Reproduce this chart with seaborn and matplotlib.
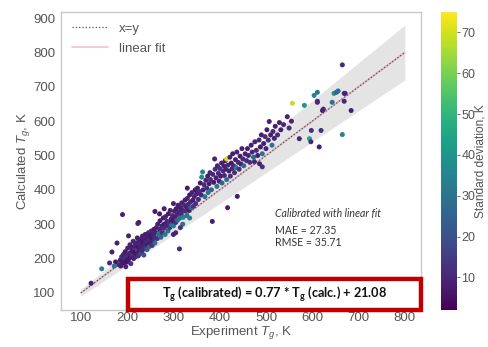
import numpy as np
import pandas as pd
import matplotlib
matplotlib.use("Agg")
import matplotlib.pyplot as plt
import seaborn as sns
from matplotlib.patches import Rectangle

# ---------------- data ----------------
exp_tg = [
    122, 145, 162, 167, 178, 203, 225, 190, 223, 260, 175, 172,
    182, 186, 190, 194, 197, 202,
    185, 188, 190, 192, 195, 196, 198, 200, 201, 203, 205, 206, 207, 208, 210, 211,
    212, 213, 214, 215, 216, 217, 218, 219, 220, 221, 222, 223, 224, 225, 226, 227,
    228, 229, 230, 231, 232, 233, 234, 235, 236, 237, 238, 239, 240, 241, 242, 243,
    244, 245, 246, 247, 248, 249, 250, 252, 253, 254, 255, 256, 258, 259, 260, 262,
    263, 265, 266, 268, 270, 271, 273, 275, 276, 278, 279, 280, 282, 283, 285, 286,
    288, 289, 290, 292, 293, 295, 296, 298, 299, 300, 302, 303, 305, 306, 308, 309,
    310, 312, 313, 314, 315, 317, 318, 320, 321, 323, 325, 326, 328, 329, 330, 332,
    334, 335, 337, 338, 340, 342, 343, 345, 347, 348, 350,
    305, 320, 335, 300, 315, 280, 300, 330, 270,
    352, 354, 356, 358, 360, 361, 363, 364, 366, 368, 370, 372, 374, 375, 377, 379,
    380, 382, 384, 385, 387, 389, 390, 392, 394, 395, 397, 399, 400, 402, 404, 405,
    407, 409, 410, 412, 413, 415, 415, 417, 418, 420, 422, 423, 425, 427, 428, 430,
    432, 434, 435, 437, 438, 440, 442, 444, 446, 448, 450, 452, 455, 458, 460,
    475, 486, 492,
    462, 465, 468, 470, 473, 476, 479, 482, 485, 488, 490, 492, 495, 498, 500, 502,
    505, 507, 510, 513, 515, 518, 520, 525, 529, 532, 538, 546, 550, 557, 555,
    572, 583, 594, 597, 598, 604, 611, 611, 611, 615, 619, 622, 624, 643, 647, 652,
    656, 665, 665, 669, 671, 669, 684,
]
calc_tg = [
    128, 170, 187, 219, 245, 266, 305, 328, 302, 337, 190, 178,
    182, 178, 200, 186, 176, 190,
    195, 205, 188, 212, 200, 220, 192, 208, 230, 198, 215, 240, 205, 185, 222, 232,
    210, 250, 200, 228, 218, 238, 205, 245, 212, 225, 260, 235, 208, 250, 220, 242,
    230, 215, 255, 238, 222, 265, 245, 228, 210, 252, 240, 270, 232, 258, 248, 226,
    262, 240, 275, 252, 235, 268, 245, 280, 258, 238, 270, 250, 285, 262, 245, 275,
    290, 258, 300, 272, 285, 310, 262, 295, 275, 318, 288, 300, 270, 322, 295, 308,
    280, 330, 305, 290, 340, 315, 298, 325, 308, 295, 338, 320, 305, 345, 328, 312,
    355, 335, 228, 318, 348, 330, 362, 340, 320, 355, 370, 338, 350, 325, 375, 358,
    340, 385, 365, 348, 392, 370, 352, 380, 400, 360, 388,
    275, 300, 318, 270, 290, 345, 360, 405, 330,
    405, 372, 395, 420, 385, 437, 452, 400, 415, 380, 428, 405, 440, 392, 418, 450,
    430, 400, 308, 445, 422, 490, 460, 435, 410, 470, 448, 425, 462, 440, 478, 420,
    455, 470, 442, 485, 460, 490, 430, 348, 472, 455, 495, 440, 478, 462, 505, 470,
    450, 488, 465, 510, 381, 480, 460, 498, 475, 520, 490, 470, 505, 485, 520,
    482, 476, 467,
    500, 480, 530, 510, 495, 540, 515, 500, 545, 525, 560, 505, 535, 555, 520, 575,
    545, 599, 560, 530, 570, 550, 585, 560, 596, 575, 590, 613, 580, 652, 600,
    549, 646, 549, 540, 573, 675, 684, 655, 658, 525, 573, 631, 635, 655, 681, 684,
    688, 764, 561, 681, 681, 658, 631,
]
std_dev = [
    8, 35, 10, 9, 8, 9, 7, 8, 9, 7, 6, 30,
    10, 8, 12, 7, 9, 11,
    8, 10, 6, 9, 12, 7, 5, 11, 8, 6, 10, 9, 7, 14, 8, 6,
    13, 9, 7, 10, 5, 8, 11, 9, 7, 16, 8, 6, 12, 9, 7, 10,
    8, 18, 7, 9, 11, 8, 6, 10, 20, 7, 9, 8, 12, 7, 10, 22,
    8, 6, 9, 11, 25, 7, 8, 10, 6, 13, 8, 9, 7, 11, 28, 8,
    9, 12, 8, 30, 10, 7, 26, 9, 11, 8, 13, 7, 32, 9, 10, 8,
    28, 7, 11, 14, 9, 8, 30, 10, 7, 33, 9, 8, 12, 7, 10, 27,
    8, 9, 10, 30, 7, 11, 8, 9, 35, 10, 7, 12, 8, 30, 9, 10,
    8, 7, 11, 26, 9, 8, 13, 10, 7, 12, 9,
    10, 28, 32, 8, 12, 8, 9, 8, 7,
    8, 10, 12, 7, 9, 36, 34, 8, 10, 28, 9, 11, 8, 30, 7, 9,
    12, 26, 8, 10, 7, 9, 11, 8, 30, 9, 10, 8, 12, 7, 9, 25,
    11, 8, 10, 7, 9, 70, 28, 8, 10, 8, 9, 12, 7, 10, 8, 9,
    11, 8, 30, 9, 8, 10, 12, 7, 9, 8, 10, 27, 9, 11, 8,
    10, 9, 12,
    9, 12, 8, 10, 28, 9, 11, 8, 10, 7, 9, 30, 8, 11, 9, 8,
    12, 9, 8, 30, 10, 9, 8, 11, 9, 8, 10, 9, 12, 68, 9,
    9, 40, 45, 10, 12, 35, 30, 9, 10, 8, 12, 9, 10, 30, 40, 25,
    28, 10, 35, 12, 9, 10, 8,
]

line_x = [100, 800]           # x=y reference line
fit_x = [100, 800]            # linear fit
fit_y = [100, 800]
band_lo = [90, 720]
band_hi = [110, 880]

x_ticks = [100, 200, 300, 400, 500, 600, 700, 800]
y_ticks = [100, 200, 300, 400, 500, 600, 700, 800, 900]
cbar_ticks = [10, 20, 30, 40, 50, 60, 70]

df = pd.DataFrame({"exp": exp_tg, "calc": calc_tg, "sd": std_dev})

# ---------------- style ----------------
sns.set_theme(style="white")
plt.rcParams["font.family"] = ["Liberation Sans", "DejaVu Sans"]
plt.rcParams["mathtext.fontset"] = "custom"
plt.rcParams["mathtext.rm"] = "Liberation Sans"
plt.rcParams["mathtext.it"] = "Liberation Sans:italic"
plt.rcParams["mathtext.bf"] = "Lato:bold"

W, H = 488, 347
fig = plt.figure(figsize=(W / 100, H / 100), dpi=100)
ax = fig.add_axes([61 / W, 1 - 310 / H, 360 / W, 298 / H])
cax = fig.add_axes([441 / W, 1 - 310 / H, 16 / W, 298 / H])

vmin, vmax = 2, 75
norm = plt.Normalize(vmin, vmax)

ax.fill_between(fit_x, band_lo, band_hi, color="#e4e4e4", lw=0, zorder=1)
ax.plot(fit_x, fit_y, color="palevioletred", alpha=0.4, lw=1.3, zorder=2, label="linear fit")
ax.plot(line_x, line_x, color="#555555", ls=":", lw=0.9, zorder=2, label="x=y")

sns.scatterplot(data=df, x="exp", y="calc", hue="sd", palette="viridis",
                hue_norm=norm, s=13, linewidth=0, legend=False, ax=ax, zorder=3)

ax.set_xlim(57, 835)
ax.set_ylim(50, 918)
ax.set_xticks(x_ticks)
ax.set_yticks(y_ticks)
tc = "#555555"
ax.tick_params(axis="x", length=0, pad=1.5, labelsize=9.5, labelcolor=tc)
ax.tick_params(axis="y", length=0, pad=4, labelsize=9.5, labelcolor=tc)
for s in ax.spines.values():
    s.set_color("#c8c8c8")
    s.set_linewidth(1.0)
ax.set_xlabel(r"Experiment $T_g$, K", fontsize=9.5, color=tc, labelpad=0)
ax.set_ylabel(r"Calculated $T_g$, K", fontsize=9.5, color=tc, labelpad=1)

handles, labels = ax.get_legend_handles_labels()
leg = ax.legend(handles[::-1], labels[::-1], loc="upper left", frameon=False,
                fontsize=9.5, handlelength=2.8, borderaxespad=0.4, labelspacing=0.6)
for t in leg.get_texts():
    t.set_color(tc)

sm = plt.cm.ScalarMappable(norm=norm, cmap="viridis")
cb = fig.colorbar(sm, cax=cax, ticks=cbar_ticks)
cb.outline.set_visible(False)
cax.tick_params(length=2, width=0.6, pad=1.2, labelsize=9, labelcolor=tc, color=tc)
cb.set_label("Standard deviation, K", fontsize=8.6, color=tc)
cax.yaxis.set_label_coords((474.5 - 441) / 16, 0.5)

tf = dict(family=["Lato", "DejaVu Sans"], fontsize=7.6, color="#333333")
fig.text(275 / W, 1 - 213 / H, "Calibrated with linear fit", style="italic",
         va="center", ha="left", **tf)
fig.text(275 / W, 1 - 231 / H, "MAE = 27.35", va="center", ha="left", **tf)
fig.text(275 / W, 1 - 243 / H, "RMSE = 35.71", va="center", ha="left", **tf)

rect = Rectangle((128 / W, 1 - 310 / H), 293 / W, 31 / H, transform=fig.transFigure,
                 facecolor="white", edgecolor="#c00000", lw=3.2, zorder=10)
fig.patches.append(rect)
fig.text(274.5 / W, 1 - 294.5 / H,
         r"$\mathbf{T_g}$ (calibrated) = 0.77 * $\mathbf{T_g}$ (calc.) + 21.08",
         family=["Lato", "DejaVu Sans"], fontweight="bold", fontsize=9.2,
         color="#111111", ha="center", va="center", zorder=11)

fig.savefig("out.png", dpi=100)
